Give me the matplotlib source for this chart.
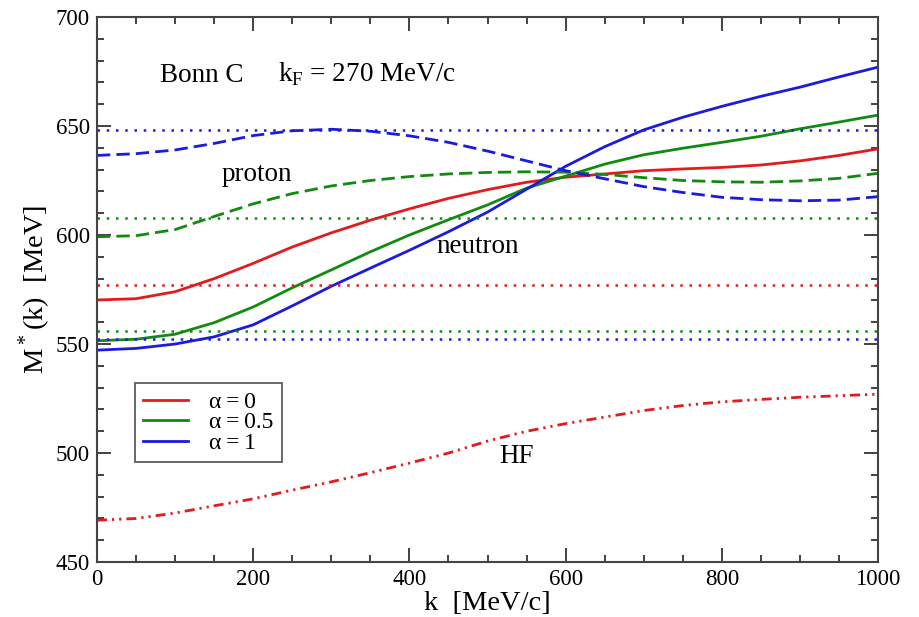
import matplotlib.pyplot as plt
from matplotlib.ticker import MultipleLocator
from matplotlib.lines import Line2D

plt.rcParams['font.family'] = ['Liberation Serif', 'DejaVu Serif']
plt.rcParams['mathtext.fontset'] = 'custom'
plt.rcParams['mathtext.rm'] = 'Liberation Serif'

k = [0, 50, 100, 150, 200, 250, 300, 350, 400, 450, 500,
     550, 600, 650, 700, 750, 800, 850, 900, 950, 1000]

# neutron, solid lines
neut_a0 = [570.2, 570.8, 574, 580, 587, 594.5, 601, 606.8, 612, 616.8, 620.8,
           624.2, 626.5, 628, 629.5, 630.3, 631, 632.1, 634, 636.5, 639.5]
neut_a05 = [551.5, 552.2, 554.5, 559.8, 567, 575.8, 584, 592.3, 600, 607, 613.8,
            621.5, 627, 632.5, 636.8, 639.8, 642.5, 645.3, 648.7, 651.8, 655]
neut_a1 = [547.2, 548, 550, 553.3, 558.8, 567.5, 576.5, 584.8, 593, 601.5, 610.5,
           621, 631.5, 640.5, 648.2, 654, 659, 663.6, 667.8, 672.5, 677]
# proton, dashed lines
prot_a05 = [599.2, 599.7, 602.5, 608.5, 614.3, 619, 622.5, 625, 626.8, 628, 628.7,
            629, 628.8, 627.8, 626.3, 625, 624.4, 624.2, 624.8, 626, 628.3]
prot_a1 = [636.5, 637.3, 639, 642, 645.6, 647.8, 648.5, 647.6, 645.5, 642.5, 638.5,
           634, 629.5, 625.8, 622.2, 619.5, 617.3, 616.2, 615.7, 616, 617.6]
# HF, dash-dot-dot
hf = [469.2, 470, 472.5, 475.8, 479, 483, 486.8, 491, 495.4, 500, 505.5,
      510, 513.5, 516.5, 519.5, 521.8, 523.5, 524.6, 525.6, 526.3, 527]

# dotted horizontal levels
lev_red = [577]
lev_green = [608, 556]
lev_blue = [648, 552.5]

red, green, blue = '#e41a1c', '#118a11', '#1a1ae0'

fig = plt.figure(figsize=(9.2, 6.17), dpi=100)
ax = fig.add_axes([0.1054, 0.089, 0.849, 0.8835])

for y, c in [(neut_a0, red), (neut_a05, green), (neut_a1, blue)]:
    ax.plot(k, y, color=c, lw=2)
for y, c in [(prot_a05, green), (prot_a1, blue)]:
    ax.plot(k, y, color=c, lw=2, dashes=(4.8, 2.2))
ax.plot(k, hf, color=red, lw=2, dashes=(3.6, 1.8, 0.8, 1.8, 0.8, 1.8))

for levs, c in [(lev_red, red), (lev_green, green), (lev_blue, blue)]:
    for v in levs:
        ax.axhline(v, color=c, lw=1.8, dashes=(1, 2.7))

ax.set_xlim(0, 1000)
ax.set_ylim(450, 700)
ax.xaxis.set_major_locator(MultipleLocator(200))
ax.xaxis.set_minor_locator(MultipleLocator(50))
ax.yaxis.set_major_locator(MultipleLocator(50))
ax.yaxis.set_minor_locator(MultipleLocator(10))
ax.tick_params(which='both', direction='in', top=True, right=True,
               labelsize=16.5, width=1.3, color='#333333')
ax.tick_params(which='major', length=10, pad=5)
ax.tick_params(which='minor', length=5)
for s in ax.spines.values():
    s.set_linewidth(1.5)
    s.set_color('#444444')

ax.set_xlabel('k  [MeV/c]', fontsize=20.5, labelpad=1)
ax.set_ylabel(r'M$^*$(k)  [MeV]', fontsize=20.5, labelpad=2)

ax.text(81, 670.2, 'Bonn C', fontsize=19.5)
ax.text(232, 670.2, r'k$_\mathrm{F}$ = 270 MeV/c', fontsize=19.5)
ax.text(160, 624.8, 'proton', fontsize=19.5)
ax.text(435, 591.7, 'neutron', fontsize=19.5)
ax.text(515, 495.4, 'HF', fontsize=19.5)

handles = [Line2D([], [], color=c, lw=2) for c in (red, green, blue)]
leg = ax.legend(handles, ['\u03b1\u2009=\u20090', '\u03b1\u2009=\u20090.5', '\u03b1\u2009=\u20091'],
                loc='lower left', bbox_to_anchor=(0.0487, 0.1835), borderaxespad=0,
                prop={'family': ['Liberation Serif', 'DejaVu Serif'], 'size': 17},
                frameon=True, fancybox=False, edgecolor='#333333',
                handlelength=1.9, labelspacing=-0.05, borderpad=0.35, handletextpad=0.9)
leg.get_frame().set_linewidth(1.3)

fig.savefig('out.png', dpi=100)
